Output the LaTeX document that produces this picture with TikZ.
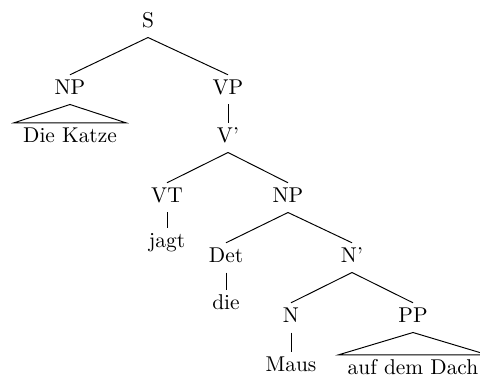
\documentclass[tikz,border=0pt]{standalone}
\begin{document}
\begin{tikzpicture}[x=0.467pt,y=-0.467pt,
  tn/.style={anchor=base, inner xsep=4pt, inner ysep=2.3pt, text height=6.94pt, text depth=1.94pt},
  edge/.style={draw=black, line width=0.45pt}]
\clip (0,0) rectangle (480,378);
\node[tn] (S) at (148,28) {S};
\node[tn] (NPa) at (70,95) {NP};
\node[tn] (VP) at (228,95) {VP};
\node[tn] (DK) at (70,143) {Die Katze};
\node[tn] (Vb) at (228,143) {V'};
\node[tn] (VT) at (167,203) {VT};
\node[tn] (NPb) at (288,203) {NP};
\node[tn] (jagt) at (167,248) {jagt};
\node[tn] (Det) at (226,263) {Det};
\node[tn] (Nb) at (352,263) {N'};
\node[tn] (die) at (226,310) {die};
\node[tn] (N) at (291,323) {N};
\node[tn] (PP) at (413,323) {PP};
\node[tn] (Maus) at (291,372) {Maus};
\node[tn] (ADD) at (413,375) {auf dem Dach};
\draw[edge] (S.south) -- (NPa.north);
\draw[edge] (S.south) -- (VP.north);
\draw[edge] (NPa.south) -- (DK.north west) -- (DK.north east) -- cycle;
\draw[edge] (VP.south) -- (Vb.north);
\draw[edge] (Vb.south) -- (VT.north);
\draw[edge] (Vb.south) -- (NPb.north);
\draw[edge] (VT.south) -- (jagt.north);
\draw[edge] (NPb.south) -- (Det.north);
\draw[edge] (NPb.south) -- (Nb.north);
\draw[edge] (Det.south) -- (die.north);
\draw[edge] (Nb.south) -- (N.north);
\draw[edge] (Nb.south) -- (PP.north);
\draw[edge] (N.south) -- (Maus.north);
\draw[edge] (PP.south) -- (ADD.north west) -- (ADD.north east) -- cycle;
\end{tikzpicture}
\end{document}
